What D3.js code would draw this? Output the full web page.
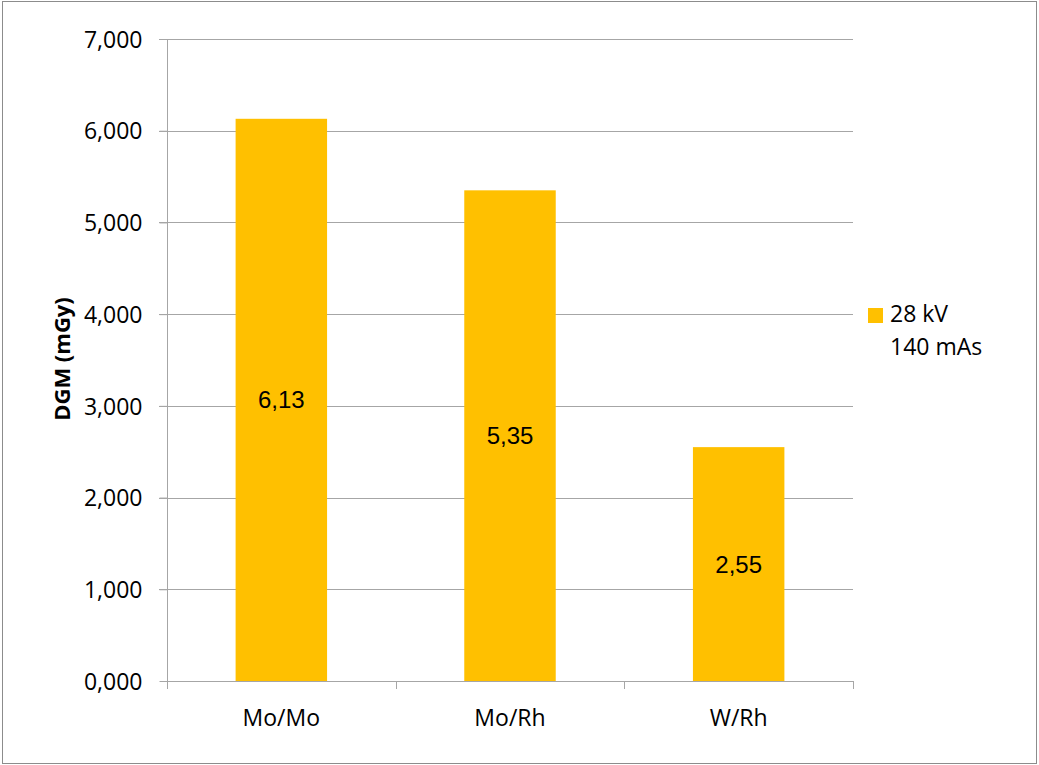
<!DOCTYPE html>
<html><head><meta charset="utf-8">
<script src="https://cdn.jsdelivr.net/npm/d3@7"></script>
<style>body{margin:0;background:#fff}</style>
</head><body>
<svg id="c" width="1039" height="765"></svg>
<script>
const categories = ["Mo/Mo", "Mo/Rh", "W/Rh"];
const values = [6130, 5350, 2550];
const valueLabels = ["6,13", "5,35", "2,55"];
const yTicks = [0, 1000, 2000, 3000, 4000, 5000, 6000, 7000];
const yTickLabels = ["0,000", "1,000", "2,000", "3,000", "4,000", "5,000", "6,000", "7,000"];
const legendLines = ["28 kV", "140 mAs"];
const yTitle = "DGM (mGy)";

const svg = d3.select("#c");
const pL = 167, pR = 853, pT = 39, pB = 681;
const axisFont = "'Open Sans', sans-serif";
const fs = 23;

svg.append("rect").attr("x", 2.5).attr("y", 1.5).attr("width", 1034).attr("height", 762)
  .attr("fill", "#fff").attr("stroke", "#8c8c8c").attr("stroke-width", 1);

const x = d3.scaleBand().domain(categories).range([pL, pR]).paddingInner(0.6).paddingOuter(0.3);
const y = d3.scaleLinear().domain([0, 7000]).range([pB, pT]);

// gridlines
svg.append("g").selectAll("line").data(yTicks.filter(d => d > 0)).join("line")
  .attr("x1", pL - 8).attr("x2", pR).attr("y1", d => Math.round(y(d)) + 0.5).attr("y2", d => Math.round(y(d)) + 0.5)
  .attr("stroke", "#a6a6a6").attr("stroke-width", 1);

// y axis
const yAxis = d3.axisLeft(y).tickValues(yTicks).tickSize(8).tickPadding(17)
  .tickFormat((d, i) => yTickLabels[i]);
const gy = svg.append("g").attr("transform", `translate(${pL + 0.5},0)`).call(yAxis);
gy.select(".domain").attr("stroke", "#a6a6a6").attr("d", `M0,${pT}V${pB}`);
gy.selectAll(".tick line").attr("stroke", "#a6a6a6");
gy.selectAll(".tick text").attr("font-family", axisFont).attr("font-size", fs).attr("fill", "#000").attr("dy", "0.36em");

// bars
svg.append("g").selectAll("rect").data(values).join("rect")
  .attr("x", (d, i) => x(categories[i])).attr("width", x.bandwidth())
  .attr("y", d => y(d)).attr("height", d => y(0) - y(d))
  .attr("fill", "#ffc000");

// x axis
const xBoundaries = [pL, pL + (pR - pL) / 3, pL + 2 * (pR - pL) / 3, pR];
const gx = svg.append("g");
gx.append("line").attr("x1", pL).attr("x2", pR + 0.5).attr("y1", pB + 0.5).attr("y2", pB + 0.5)
  .attr("stroke", "#a6a6a6");
gx.selectAll(".tk").data(xBoundaries).join("line").attr("class", "tk")
  .attr("x1", d => Math.round(d) + 0.5).attr("x2", d => Math.round(d) + 0.5)
  .attr("y1", pB).attr("y2", pB + 8).attr("stroke", "#a6a6a6");
gx.selectAll("text").data(categories).join("text")
  .attr("x", d => x(d) + x.bandwidth() / 2).attr("y", 726)
  .attr("text-anchor", "middle").attr("font-family", axisFont).attr("font-size", fs).attr("fill", "#000")
  .text(d => d);

// value labels
svg.append("g").selectAll("text").data(values).join("text")
  .attr("x", (d, i) => x(categories[i]) + x.bandwidth() / 2)
  .attr("y", d => (y(d) + y(0)) / 2 + 8.5)
  .attr("text-anchor", "middle").attr("font-family", "'Liberation Sans', Arial, sans-serif").attr("font-size", 24).attr("fill", "#000")
  .text((d, i) => valueLabels[i]);

// y title
svg.append("text").attr("transform", "translate(70,359) rotate(-90)")
  .attr("text-anchor", "middle").attr("font-family", axisFont).attr("font-weight", "bold").attr("font-size", 22)
  .attr("fill", "#000").text(yTitle);

// legend
svg.append("rect").attr("x", 868).attr("y", 308).attr("width", 15).attr("height", 15).attr("fill", "#ffc000");
svg.append("g").selectAll("text").data(legendLines).join("text")
  .attr("x", 890).attr("y", (d, i) => 322 + i * 33)
  .attr("font-family", axisFont).attr("font-size", fs).attr("fill", "#000").text(d => d);
</script>
</body></html>
